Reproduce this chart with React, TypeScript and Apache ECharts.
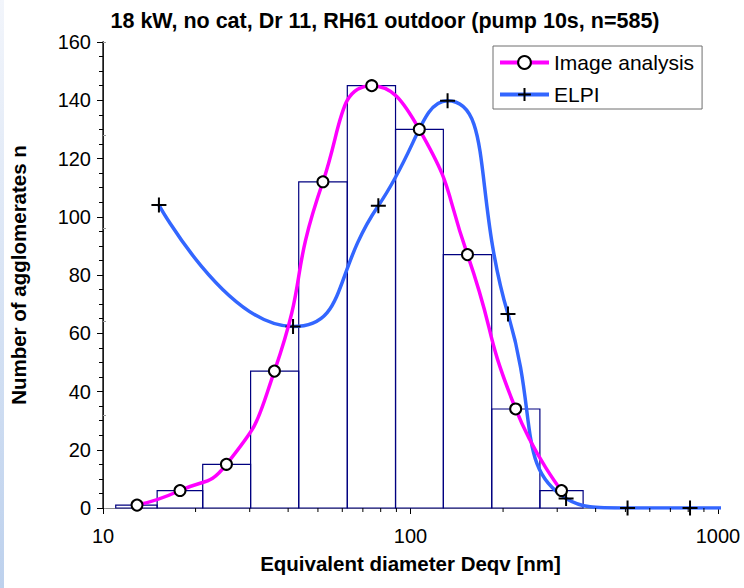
import React, { useEffect, useRef } from "react";
import * as echarts from "echarts";

const titleText = "18 kW, no cat, Dr 11, RH61 outdoor (pump 10s, n=585)";
const xName = "Equivalent diameter Deqv [nm]";
const yName = "Number of agglomerates n";

// histogram bins: [left edge, right edge, count]
const binLeft = [11.0, 15.0, 21.1, 30.2, 43.3, 62.3, 89.4, 127.9, 183.7, 263.5];
const binRight = [15.0, 21.1, 30.2, 43.3, 62.3, 89.4, 127.9, 183.7, 263.5, 364.2];
const binCount = [1, 6, 15, 47, 112, 145, 130, 87, 34, 6];

// Image analysis (circle markers)
const imgX = [12.9, 17.8, 25.2, 36.1, 51.9, 74.8, 106.8, 153.2, 219.8, 309.8];
const imgY = [1, 6, 15, 47, 112, 145, 130, 87, 34, 6];

// ELPI (plus markers)
const elpiX = [15.2, 41.5, 78.6, 132.0, 207.5, 320.6, 508, 811, 1300];
const elpiY = [104, 62.3, 103.8, 139.8, 66.6, 3.3, 0, 0, 0];

const xMinorTicks = [20, 30, 40, 50, 60, 70, 80, 90, 200, 300, 400, 500, 600, 700, 800, 900];

const FONT = "'Liberation Sans', Arial, sans-serif";

export default function App() {
  const ref = useRef<HTMLDivElement>(null);
  useEffect(() => {
    document.body.style.margin = "0";
    const chart = echarts.init(ref.current!, undefined, { renderer: "svg" });
    const plusPath = "path://M0,7L14,7M7,0L7,14";
    chart.setOption({
      animation: false,
      backgroundColor: "#ffffff",
      textStyle: { fontFamily: FONT },
      title: {
        text: titleText,
        left: 380,
        textAlign: "center",
        top: 5,
        textStyle: { fontSize: 21.5, fontWeight: "bold", color: "#000", fontFamily: FONT },
      },
      graphic: [
        {
          type: "rect",
          left: 0,
          top: 0,
          shape: { width: 4, height: 588 },
          style: {
            fill: new echarts.graphic.LinearGradient(0, 0, 0, 1, [
              { offset: 0, color: "#f2f5fb" },
              { offset: 1, color: "#bdd1ed" },
            ]),
          },
          silent: true,
        },
      ],
      legend: {
        orient: "vertical",
        left: 493,
        top: 46,
        backgroundColor: "#ffffff",
        borderColor: "#6e6e6e",
        borderWidth: 1,
        padding: [6, 8, 4, 5],
        itemWidth: 49,
        itemHeight: 16,
        itemGap: 11,
        lineStyle: { width: 4 },
        textStyle: { fontSize: 21, color: "#000", fontFamily: FONT },
        data: ["Image analysis", "ELPI"],
      },
      grid: { left: 101, right: 26, top: 42, bottom: 80, containLabel: false },
      xAxis: [
        {
          type: "log",
          logBase: 10,
          min: 10,
          max: 1000,
          name: xName,
          nameLocation: "middle",
          nameGap: 45,
          nameTextStyle: { fontSize: 20.5, fontWeight: "bold", color: "#000", fontFamily: FONT },
          axisLine: { show: true, onZero: false, lineStyle: { color: "#000", width: 1 } },
          axisTick: { show: true, length: 6, lineStyle: { color: "#000" } },
          minorTick: { show: false },
          splitLine: { show: false },
          axisLabel: {
            fontSize: 20,
            color: "#000",
            margin: 18,
            fontFamily: FONT,
            formatter: (v: number) => String(Math.round(v)),
          },
        },
        {
          type: "value",
          position: "top",
          min: 0,
          max: 1,
          axisLine: { show: true, lineStyle: { color: "#8a8a8a", width: 1 } },
          axisTick: { show: false },
          axisLabel: { show: false },
          splitLine: { show: false },
        },
      ],
      yAxis: [
        {
          type: "value",
          min: 0,
          max: 160,
          interval: 20,
          name: yName,
          nameLocation: "middle",
          nameGap: 74,
          nameTextStyle: { fontSize: 20.5, fontWeight: "bold", color: "#000", fontFamily: FONT },
          axisLine: { show: true, onZero: false, lineStyle: { color: "#000", width: 1 } },
          axisTick: { show: true, length: 6, lineStyle: { color: "#000" } },
          minorTick: { show: true, splitNumber: 4, length: 4, lineStyle: { color: "#000" } },
          splitLine: { show: false },
          axisLabel: { fontSize: 20, color: "#000", margin: 12, fontFamily: FONT },
        },
        {
          type: "value",
          position: "right",
          min: 0,
          max: 5,
          interval: 1,
          axisLine: { show: true, lineStyle: { color: "#222", width: 1.5 } },
          axisTick: { show: true, length: 3, lineStyle: { color: "#999" } },
          axisLabel: { show: false },
          splitLine: { show: false },
        },
      ],
      series: [
        {
          type: "custom",
          name: "bins",
          xAxisIndex: 0,
          yAxisIndex: 0,
          z: 1,
          silent: true,
          encode: { x: [0, 1], y: 2 },
          data: binCount.map((c, i) => [binLeft[i], binRight[i], c]),
          renderItem: (params: any, api: any) => {
            const p0 = api.coord([api.value(0), api.value(2)]);
            const p1 = api.coord([api.value(1), 0]);
            return {
              type: "rect",
              shape: { x: p0[0], y: p0[1], width: p1[0] - p0[0], height: p1[1] - p0[1] },
              style: { fill: "none", stroke: "#000080", lineWidth: 1.2 },
            };
          },
        },
        {
          type: "custom",
          name: "minorTicks",
          xAxisIndex: 0,
          yAxisIndex: 0,
          z: 5,
          silent: true,
          clip: false,
          encode: { x: 0, y: 1 },
          data: xMinorTicks.map((v) => [v, 0]),
          renderItem: (params: any, api: any) => {
            const p = api.coord([api.value(0), 0]);
            return {
              type: "line",
              shape: { x1: p[0], y1: p[1], x2: p[0], y2: p[1] + 4 },
              style: { stroke: "#000", lineWidth: 1 },
            };
          },
        },
        {
          type: "line",
          name: "Image analysis",
          xAxisIndex: 0,
          yAxisIndex: 0,
          z: 4,
          smooth: 0.55,
          data: imgX.map((x, i) => [x, imgY[i]]),
          symbol: "circle",
          symbolSize: 11,
          showAllSymbol: true,
          lineStyle: { color: "#ff00ff", width: 3.5 },
          itemStyle: { color: "#ffffff", borderColor: "#000", borderWidth: 2 },
        },
        {
          type: "line",
          name: "ELPI",
          xAxisIndex: 0,
          yAxisIndex: 0,
          z: 3,
          smooth: 0.55,
          clip: true,
          data: elpiX.map((x, i) => [x, elpiY[i]]),
          symbol: plusPath,
          symbolSize: 15,
          showAllSymbol: true,
          lineStyle: { color: "#3366ff", width: 3.5 },
          itemStyle: { color: "#000", borderColor: "#000", borderWidth: 2 },
        },
      ],
    });
    return () => chart.dispose();
  }, []);
  return <div ref={ref} style={{ width: 744, height: 588 }} />;
}
